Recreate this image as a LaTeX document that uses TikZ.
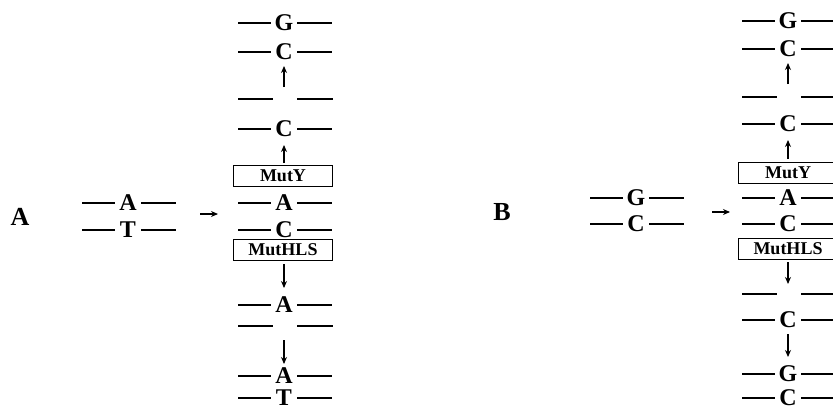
\documentclass[tikz,border=0pt]{standalone}
\usepackage{fontspec}
\setmainfont{Liberation Serif}
\usetikzlibrary{arrows.meta}
\begin{document}
\begin{tikzpicture}[x=1pt,y=-1pt,
  base/.style={font=\fontsize{24}{24}\selectfont\bfseries, inner sep=0pt},
  panel/.style={font=\fontsize{26}{26}\selectfont\bfseries, inner sep=0pt},
  enzyme/.style={draw, line width=0.8pt, minimum width=99pt, minimum height=21pt,
    inner sep=0pt, font=\fontsize{18}{18}\selectfont\bfseries},
  strand/.style={line width=1.1pt},
  arr/.style={line width=1.1pt, -{Stealth[length=7pt,width=6pt]}},
  bpair/.pic={
    \node[base] (-l) at (0,0) {#1};
    \draw[strand] (-46,0) -- (-13,0);
    \draw[strand] (13,0) -- (48,0);
  },
  nick/.pic={
    \draw[strand] (-46,0) -- (-11,0);
    \draw[strand] (13,0) -- (49,0);
  }]
\fill[white] (0,0) rectangle (833,410);
\useasboundingbox (0,0) rectangle (833,410);
\clip (0,0) rectangle (833,410);

% ---------- panel A ----------
\node[panel] (labA) at (20,217) {A};
\pic (a0t) at (128,203) {bpair=A};
\pic (a0b) at (128,230) {bpair=T};
\coordinate (ra1) at (200,214);
\coordinate (ra2) at (218,214);
\draw[arr] (ra1) -- (ra2);

\pic (a1t) at (284,23) {bpair=G};
\pic (a1b) at (284,52) {bpair=C};
\coordinate (ua1) at (284,87);
\coordinate (ua2) at (284,66);
\draw[arr] (ua1) -- (ua2);
\pic (a2t) at (284,99) {nick};
\pic (a2b) at (284,129) {bpair=C};
\coordinate (ua3) at (284,163);
\coordinate (ua4) at (284,145);
\draw[arr] (ua3) -- (ua4);
\node[enzyme] (mutyA) at (283,176) {MutY};
\pic (a3t) at (284,203) {bpair=A};
\pic (a3b) at (284,230) {bpair=C};
\node[enzyme] (muthA) at (283,250) {MutHLS};
\coordinate (da1) at (284,264);
\coordinate (da2) at (284,288);
\draw[arr] (da1) -- (da2);
\pic (a4t) at (284,305) {bpair=A};
\pic (a4b) at (284,326) {nick};
\coordinate (da3) at (284,340);
\coordinate (da4) at (284,364);
\draw[arr] (da3) -- (da4);
\pic (a5t) at (284,376) {bpair=A};
\pic (a5b) at (284,398) {bpair=T};

% ---------- panel B ----------
\node[panel] (labB) at (502,212) {B};
\pic (b0t) at (636,198) {bpair=G};
\pic (b0b) at (636,224) {bpair=C};
\coordinate (rb1) at (712,212);
\coordinate (rb2) at (730,212);
\draw[arr] (rb1) -- (rb2);

\pic (b1t) at (788,21) {bpair=G};
\pic (b1b) at (788,49) {bpair=C};
\coordinate (ub1) at (788,84);
\coordinate (ub2) at (788,63);
\draw[arr] (ub1) -- (ub2);
\pic (b2t) at (788,97) {nick};
\pic (b2b) at (788,124) {bpair=C};
\coordinate (ub3) at (788,159);
\coordinate (ub4) at (788,140);
\draw[arr] (ub3) -- (ub4);
\node[enzyme] (mutyB) at (788,173) {MutY};
\pic (b3t) at (788,198) {bpair=A};
\pic (b3b) at (788,224) {bpair=C};
\node[enzyme] (muthB) at (788,249) {MutHLS};
\coordinate (db1) at (788,262);
\coordinate (db2) at (788,284);
\draw[arr] (db1) -- (db2);
\pic (b4t) at (788,294) {nick};
\pic (b4b) at (788,320) {bpair=C};
\coordinate (db3) at (788,334);
\coordinate (db4) at (788,357);
\draw[arr] (db3) -- (db4);
\pic (b5t) at (788,374) {bpair=G};
\pic (b5b) at (788,398) {bpair=C};
\end{tikzpicture}
\end{document}
